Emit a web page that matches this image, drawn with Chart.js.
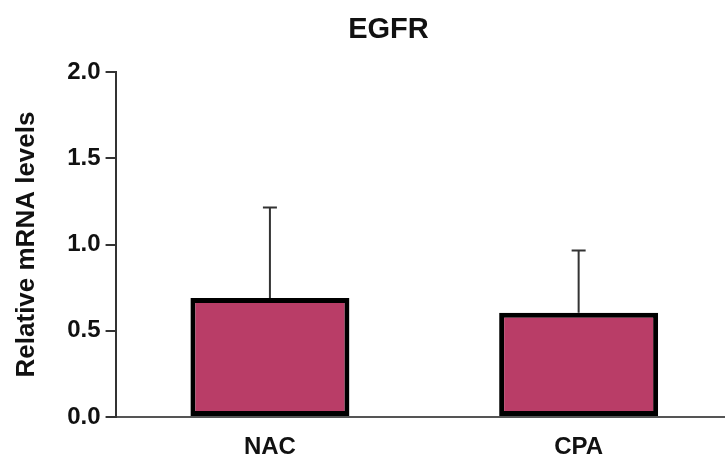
<!DOCTYPE html>
<html>
<head>
<meta charset="utf-8">
<script src="https://cdn.jsdelivr.net/npm/chart.js@4/dist/chart.umd.min.js"></script>
<style>
    html, body { margin: 0; padding: 0; background: #fff; overflow: hidden; }
    #wrap { width: 725px; height: 458px; overflow: hidden; }
</style>
</head>
<body>
<div id="wrap"><canvas id="egfrChart" width="745" height="458"></canvas></div>
<script>
var chartTitle = 'EGFR';
var groups = ['NAC', 'CPA'];
var meanValues = [0.69, 0.605];
var errorTops = [1.215, 0.965];
var yTicks = [0.0, 0.5, 1.0, 1.5, 2.0];

(function () {
    var canvas = document.getElementById('egfrChart');
    var font = "'Liberation Sans', Arial, sans-serif";

    var errorBars = {
        id: 'errorBars',
        afterDatasetsDraw: function (chart) {
            var ctx = chart.ctx;
            var y = chart.scales.y;
            var meta = chart.getDatasetMeta(0);
            ctx.save();
            ctx.strokeStyle = '#333';
            ctx.lineWidth = 2;
            meta.data.forEach(function (bar, i) {
                var top = y.getPixelForValue(errorTops[i]);
                var base = y.getPixelForValue(meanValues[i]);
                ctx.beginPath();
                ctx.moveTo(bar.x, base);
                ctx.lineTo(bar.x, top);
                ctx.moveTo(bar.x - 7, top);
                ctx.lineTo(bar.x + 7, top);
                ctx.stroke();
            });
            ctx.restore();
        }
    };

    var titleText = {
        id: 'titleText',
        afterDraw: function (chart) {
            var ctx = chart.ctx;
            ctx.save();
            ctx.fillStyle = '#111';
            ctx.font = 'bold 29px ' + font;
            ctx.textAlign = 'center';
            ctx.textBaseline = 'alphabetic';
            ctx.fillText(chartTitle, chart.width / 2 + 16, 38);
            ctx.restore();
        }
    };

    new Chart(canvas, {
        type: 'bar',
        data: {
            labels: groups,
            datasets: [{
                data: meanValues,
                backgroundColor: '#b93d67',
                borderColor: '#000',
                borderWidth: 5,
                borderSkipped: false,
                barPercentage: 0.515,
                categoryPercentage: 1
            }]
        },
        options: {
            responsive: false,
            animation: false,
            layout: { padding: { top: 72, right: 12, bottom: -19, left: 0 } },
            plugins: {
                legend: { display: false },
                tooltip: { enabled: false },
                title: { display: false }
            },
            scales: {
                x: {
                    grid: { display: false, drawTicks: false },
                    border: { color: '#555', width: 2 },
                    ticks: {
                        color: '#111',
                        padding: 18,
                        font: { family: font, size: 24, weight: 'bold', lineHeight: 1 }
                    }
                },
                y: {
                    min: 0,
                    max: 2,
                    afterBuildTicks: function (scale) {
                        scale.ticks = yTicks.map(function (v) { return { value: v }; });
                    },
                    grid: {
                        drawOnChartArea: false,
                        tickLength: 10,
                        color: '#333',
                        lineWidth: 2
                    },
                    border: { color: '#333', width: 2 },
                    ticks: {
                        color: '#111',
                        padding: 5,
                        font: { family: font, size: 24, weight: 'bold' },
                        callback: function (v) { return Number(v).toFixed(1); }
                    },
                    title: {
                        display: true,
                        text: 'Relative mRNA levels',
                        color: '#111',
                        padding: { top: 11, bottom: 20 },
                        font: { family: font, size: 26, weight: 'bold' }
                    }
                }
            }
        },
        plugins: [errorBars, titleText]
    });
})();
</script>
</body>
</html>
